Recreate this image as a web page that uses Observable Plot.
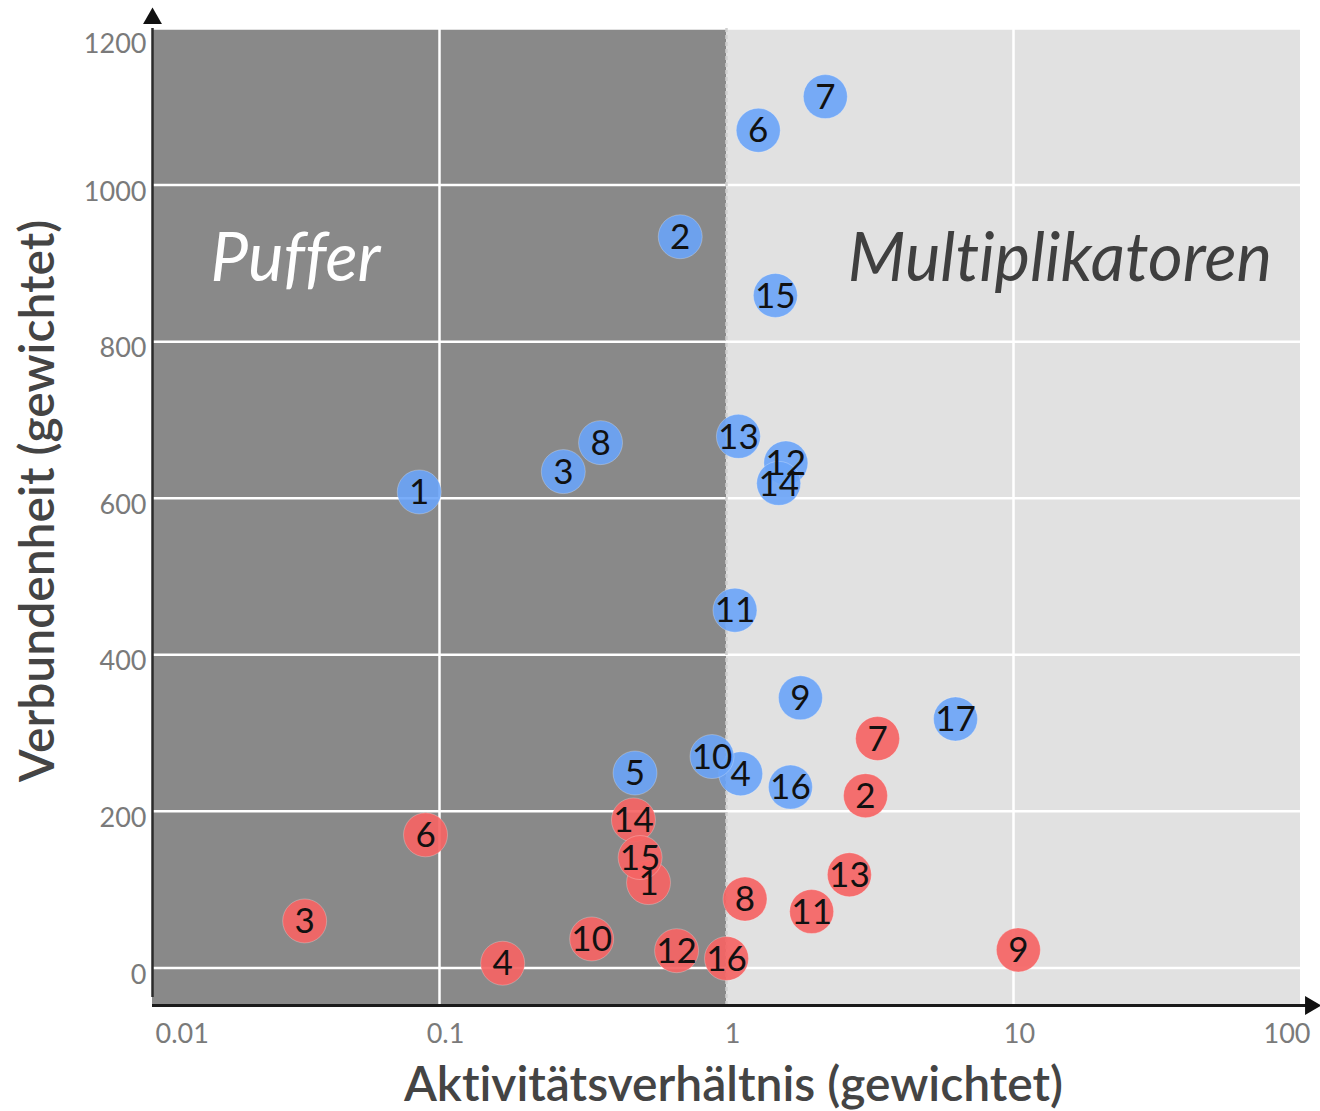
<!DOCTYPE html>
<html>
<head>
<meta charset="utf-8">
<script src="https://cdn.jsdelivr.net/npm/d3@7"></script>
<script src="https://cdn.jsdelivr.net/npm/@observablehq/plot@0.6"></script>
<style>
  html, body { margin: 0; padding: 0; background: #fff; }
  #chart svg { display: block; overflow: visible; font-variant-ligatures: none; font-feature-settings: "liga" 0, "clig" 0; }
</style>
</head>
<body>
<div id="chart"></div>
<script>
// ---- Data ----
const blueIds = [1, 2, 3, 4, 5, 6, 7, 8, 9, 10, 11, 12, 13, 14, 15, 16, 17];
const blueX   = [0.085, 0.69, 0.27, 1.12, 0.48, 1.29, 2.21, 0.364, 1.81, 0.89, 1.07, 1.61, 1.10, 1.52, 1.48, 1.67, 6.28];
const blueY   = [608, 934, 634, 248, 249, 1070, 1113, 671, 345, 270, 457, 645, 679, 619, 859, 231, 318];

const redIds = [1, 2, 3, 4, 6, 7, 8, 9, 10, 11, 12, 13, 14, 15, 16];
const redX   = [0.535, 3.05, 0.0339, 0.166, 0.0894, 3.36, 1.16, 10.4, 0.339, 1.98, 0.67, 2.68, 0.474, 0.50, 1.0];
const redY   = [109, 220, 60, 6, 170, 293, 88, 23, 37, 72, 22, 119, 189, 141, 12];

const xTicks = [0.01, 0.1, 1, 10, 100];
const xTickLabels = ["0.01", "0.1", "1", "10", "100"];
const yTicks = [0, 200, 400, 600, 800, 1000, 1200];

const xDomain = [0.01, 100];
const yDomain = [-48, 1200];
const split = 1;

const regionNames = ["Puffer", "Multiplikatoren"];
const regionLabelX = [0.0315, 14.5];
const regionLabelY = [877, 877];

const xTitle = "Aktivitätsverhältnis (gewichtet)";
const yTitle = "Verbundenheit (gewichtet)";

// ---- Build tables ----
const blue = blueIds.map((id, i) => ({id, x: blueX[i], y: blueY[i]}));
const red = redIds.map((id, i) => ({id, x: redX[i], y: redY[i]}));
const regions = [
  {x1: xDomain[0], x2: split, y1: yDomain[0], y2: yDomain[1], name: regionNames[0]},
  {x1: split, x2: xDomain[1], y1: yDomain[0], y2: yDomain[1], name: regionNames[1]}
];
const regionLabels = regionNames.map((name, i) => ({name, x: regionLabelX[i], y: regionLabelY[i]}));
const fmtX = d => xTickLabels[xTicks.indexOf(d)];
const fmtY = d => String(d);

const FONT = "Lato, 'Noto Sans', sans-serif";
const tickStyle = {tickSize: 0, fontSize: 27, color: "#7a7a7a", label: null};

const plot = Plot.plot({
  width: 1320,
  height: 1111,
  marginLeft: 152,
  marginRight: 20,
  marginTop: 28,
  marginBottom: 106,
  style: {fontFamily: FONT, background: "#fff"},
  x: {type: "log", domain: xDomain},
  y: {domain: yDomain},
  marks: [
    // quadrant backgrounds
    Plot.rect([regions[0]], {x1: "x1", x2: "x2", y1: "y1", y2: "y2", fill: "#898989"}),
    Plot.rect([regions[1]], {x1: "x1", x2: "x2", y1: "y1", y2: "y2", fill: "#e1e1e1"}),
    // grid
    Plot.gridY(yTicks, {stroke: "#fff", strokeOpacity: 1, strokeWidth: 2.5}),
    Plot.gridX([0.1, 10], {stroke: "#fff", strokeOpacity: 1, strokeWidth: 2.5}),
    Plot.gridX([split], {stroke: "#cfcfcf", strokeOpacity: 1, strokeWidth: 2.5, strokeDasharray: "4,3"}),
    // region labels
    Plot.text([regionLabels[0]], {x: "x", y: "y", text: "name", fill: "#fff", fontSize: 67, fontStyle: "italic", lineAnchor: "bottom", textAnchor: "middle"}),
    Plot.text([regionLabels[1]], {x: "x", y: "y", text: "name", fill: "#3f3f3f", fontSize: 67, fontStyle: "italic", lineAnchor: "bottom", textAnchor: "middle"}),
    // axes lines with arrows
    Plot.ruleX([xDomain[0]], {y1: yDomain[0], y2: yDomain[1], stroke: "#2b2b2b", strokeWidth: 2.5, insetTop: -8}),
    Plot.ruleY([yDomain[0]], {x1: xDomain[0], x2: xDomain[1], stroke: "#1a1a1a", strokeWidth: 3, insetRight: -8}),
    Plot.dot([{x: xDomain[0], y: yDomain[1]}], {x: "x", y: "y", symbol: "triangle", r: 7, fill: "#111", stroke: "none", dy: -10}),
    Plot.dot([{x: xDomain[1], y: yDomain[0]}], {x: "x", y: "y", symbol: "triangle", r: 7, fill: "#111", stroke: "none", dx: 10, rotate: 90}),
    // tick labels
    Plot.axisY(yTicks.filter(d => d < 1200), {...tickStyle, tickPadding: 6, dy: 7, tickFormat: fmtY}),
    Plot.axisY([1200], {...tickStyle, tickPadding: 6, dy: 16, tickFormat: fmtY}),
    Plot.axisX([xTicks[0]], {...tickStyle, tickPadding: 18, tickFormat: fmtX, textAnchor: "start", dx: 3}),
    Plot.axisX(xTicks.slice(1, 4), {...tickStyle, tickPadding: 18, tickFormat: fmtX, dx: 6}),
    Plot.axisX([xTicks[4]], {...tickStyle, tickPadding: 18, tickFormat: fmtX, textAnchor: "end", dx: 10}),
    // axis titles
    Plot.text([xTitle], {frameAnchor: "bottom", dy: 80, dx: 7, fontSize: 48, fontWeight: 600, fill: "#444", lineAnchor: "middle", textAnchor: "middle"}),
    Plot.text([yTitle], {frameAnchor: "left", rotate: -90, dx: -114, dy: -16, fontSize: 48, fontWeight: 600, fill: "#444", lineAnchor: "middle", textAnchor: "middle"}),
    // points
    Plot.dot(red, {x: "x", y: "y", r: 22, fill: "#f56464", fillOpacity: 0.92, stroke: "#ffffff", strokeOpacity: 0.25, strokeWidth: 1}),
    Plot.dot(blue, {x: "x", y: "y", r: 22, fill: "#6aa4f8", fillOpacity: 0.9, stroke: "#ffffff", strokeOpacity: 0.25, strokeWidth: 1}),
    Plot.text(red, {x: "x", y: "y", text: "id", fontSize: 35, fill: "#111", dy: 1}),
    Plot.text(blue, {x: "x", y: "y", text: "id", fontSize: 35, fill: "#111", dy: 1})
  ]
});
document.getElementById("chart").appendChild(plot);
</script>
</body>
</html>
